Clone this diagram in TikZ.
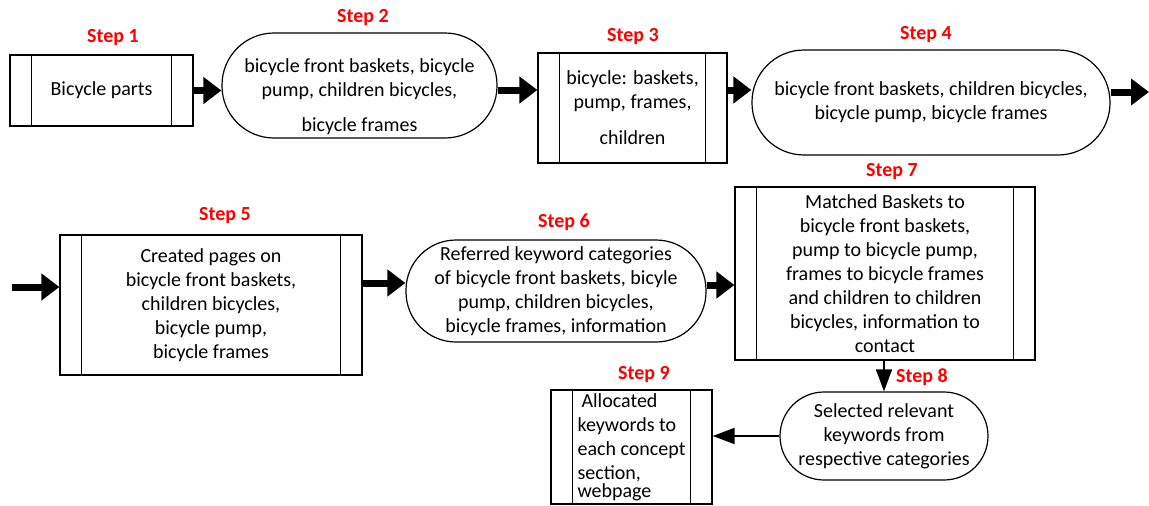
\documentclass[tikz,border=0pt]{standalone}
\usepackage{fontspec}
\setmainfont{Carlito}
\usepackage{tikz}
\usetikzlibrary{arrows.meta}

\tikzset{
  proc/.style={draw, line width=1.2pt, align=center, inner sep=0pt,
    path picture={
      \draw[line width=1.2pt] ([xshift=21.5pt]path picture bounding box.north west) -- ([xshift=21.5pt]path picture bounding box.south west);
      \draw[line width=1.2pt] ([xshift=-21.5pt]path picture bounding box.north east) -- ([xshift=-21.5pt]path picture bounding box.south east);
    }},
  pill/.style={draw, line width=1.2pt, align=center, inner sep=0pt, rounded corners=#1},
  steplbl/.style={text=red, font=\fontsize{20}{24}\selectfont\bfseries},
  bigarrow/.style={line width=7pt, -{Triangle[length=18pt,width=26pt]}},
  thinarrow/.style={line width=1.5pt, -{Triangle[length=22pt,width=16pt]}}
}

\begin{document}
\begin{tikzpicture}[x=1pt, y=-1pt, font=\fontsize{20}{24}\selectfont]
  \useasboundingbox (0,0) rectangle (1149,506);

  % First row
  \node[proc, minimum width=183pt, minimum height=71pt] (s1) at (101.5,90.5) {Bicycle parts};
  \node[pill=52pt, minimum width=275pt, minimum height=105pt] (s2) at (359.5,85.5) {};
  \node[align=center] (s2t) at (359.5,97) {bicycle front baskets, bicycle\\ pump, children bicycles,\\[11pt] bicycle frames};
  \node[proc, minimum width=189pt, minimum height=110pt] (s3) at (632.5,108) {bicycle: baskets,\\ pump, frames,\\[12pt] children};
  \node[pill=52pt, minimum width=358pt, minimum height=105pt] (s4) at (931,102.5) {bicycle front baskets, children bicycles,\\ bicycle pump, bicycle frames};

  % Second row
  \node[proc, minimum width=302pt, minimum height=140pt] (s5) at (211,305) {Created pages on\\ bicycle front baskets,\\ children bicycles,\\ bicycle pump,\\ bicycle frames};
  \node[pill=50pt, minimum width=300pt, minimum height=102pt] (s6) at (556,291) {Referred keyword categories\\ of bicycle front baskets, bicyle\\ pump, children bicycles,\\ bicycle frames, information};
  \node[proc, minimum width=300pt, minimum height=173pt] (s7) at (885,273.5) {Matched Baskets to\\ bicycle front baskets,\\ pump to bicycle pump,\\ frames to bicycle frames\\ and children to children\\ bicycles, information to\\ contact};

  % Last row
  \node[pill=44pt, minimum width=208pt, minimum height=88pt] (s8) at (884,436) {Selected relevant\\ keywords from\\ respective categories};
  \node[proc, align=left, minimum width=161pt, minimum height=114pt] (s9) at (631.5,447) {\hspace{4pt}Allocated\\ keywords to\\ each concept\\ section,\\[-6pt] webpage};

  % Step labels
  \node[steplbl] (l1) at (113,38) {Step 1};
  \node[steplbl] (l2) at (363,18) {Step 2};
  \node[steplbl] (l3) at (633,37) {Step 3};
  \node[steplbl] (l4) at (926,35) {Step 4};
  \node[steplbl] (l5) at (225,216) {Step 5};
  \node[steplbl] (l6) at (564,222) {Step 6};
  \node[steplbl] (l7) at (892,172) {Step 7};
  \node[steplbl] (l8) at (922,377) {Step 8};
  \node[steplbl] (l9) at (644,375) {Step 9};

  % Arrows
  \coordinate (out4) at (1149,92);
  \coordinate (in5) at (12,287);
  \draw[bigarrow] (s1.east) -- (s1.east -| s2.west);
  \draw[bigarrow] ([yshift=-4.5pt]s2.east) -- ([yshift=-4.5pt]s2.east -| s3.west);
  \draw[bigarrow] ([yshift=12.5pt]s4.west -| s3.east) -- ([yshift=12.5pt]s4.west);
  \draw[bigarrow] (out4 -| s4.east) -- (out4);
  \draw[bigarrow] (in5) -- (in5 -| s5.west);
  \draw[bigarrow] ([yshift=8pt]s6.west -| s5.east) -- ([yshift=8pt]s6.west);
  \draw[bigarrow] ([yshift=6pt]s6.east) -- ([yshift=6pt]s6.east -| s7.west);
  \draw[thinarrow] (s8.north |- s7.south) -- (s8.north);
  \draw[thinarrow] (s8.west) -- (s8.west -| s9.east);
\end{tikzpicture}
\end{document}
